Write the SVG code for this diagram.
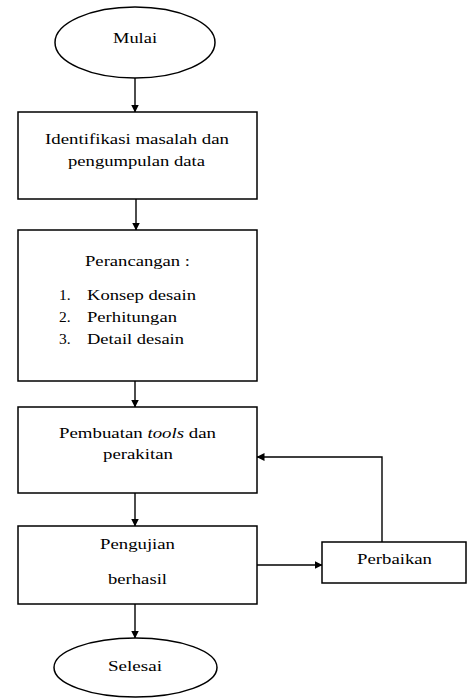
<svg xmlns="http://www.w3.org/2000/svg" width="467" height="698" viewBox="0 0 467 698">
<defs>
<marker id="ah" markerWidth="8" markerHeight="8" refX="7.5" refY="4" orient="auto" markerUnits="userSpaceOnUse">
<path d="M0,0 L8,4 L0,8 Z" fill="#000"/>
</marker>
<style>
.s{fill:#fff;stroke:#000;stroke-width:1.5}
.t{font-family:'Liberation Serif','Times New Roman',serif;font-size:15.5px;fill:#000;text-anchor:middle}
.l{font-family:'Liberation Serif','Times New Roman',serif;font-size:15.5px;fill:#000}
.c{fill:none;stroke:#000;stroke-width:1.4;marker-end:url(#ah)}
</style>
</defs>
<rect width="467" height="698" fill="#fff"/>
<g id="connectors">
<line class="c" x1="135" y1="78" x2="135" y2="112"/>
<line class="c" x1="136" y1="199" x2="136" y2="230"/>
<line class="c" x1="135" y1="381" x2="135" y2="407"/>
<line class="c" x1="135" y1="493" x2="135" y2="526"/>
<line class="c" x1="135" y1="604" x2="135" y2="638"/>
<line class="c" x1="257" y1="565" x2="322" y2="565"/>
<polyline class="c" points="382,542 382,457 257,457"/>
</g>
<g id="mulai">
<ellipse class="s" cx="135" cy="42.5" rx="80" ry="35.5"/>
<text class="t" x="135" y="43" textLength="44" lengthAdjust="spacingAndGlyphs">Mulai</text>
</g>
<g id="identifikasi">
<rect class="s" x="18" y="112" width="239" height="87"/>
<text class="t" x="137" y="144" textLength="184" lengthAdjust="spacingAndGlyphs">Identifikasi masalah dan</text>
<text class="t" x="136.5" y="166" textLength="137" lengthAdjust="spacingAndGlyphs">pengumpulan data</text>
</g>
<g id="perancangan">
<rect class="s" x="18" y="230" width="239" height="151"/>
<text class="t" x="137.5" y="266" textLength="105" lengthAdjust="spacingAndGlyphs">Perancangan :</text>
<text class="l" x="59" y="300">1.</text>
<text class="l" x="87" y="300" textLength="109" lengthAdjust="spacingAndGlyphs">Konsep desain</text>
<text class="l" x="59" y="322">2.</text>
<text class="l" x="87" y="322" textLength="90" lengthAdjust="spacingAndGlyphs">Perhitungan</text>
<text class="l" x="59" y="344">3.</text>
<text class="l" x="87" y="344" textLength="97" lengthAdjust="spacingAndGlyphs">Detail desain</text>
</g>
<g id="pembuatan">
<rect class="s" x="18" y="407" width="239" height="86"/>
<text class="t" x="137.5" y="438" textLength="157" lengthAdjust="spacingAndGlyphs">Pembuatan <tspan font-style="italic">tools</tspan> dan</text>
<text class="t" x="138" y="459" textLength="70" lengthAdjust="spacingAndGlyphs">perakitan</text>
</g>
<g id="pengujian">
<rect class="s" x="18" y="526" width="239" height="78"/>
<text class="t" x="137.5" y="549" textLength="75" lengthAdjust="spacingAndGlyphs">Pengujian</text>
<text class="t" x="137.5" y="584" textLength="59" lengthAdjust="spacingAndGlyphs">berhasil</text>
</g>
<g id="perbaikan">
<rect class="s" x="322" y="542" width="144" height="41"/>
<text class="t" x="394.5" y="564" textLength="75" lengthAdjust="spacingAndGlyphs">Perbaikan</text>
</g>
<g id="selesai">
<ellipse class="s" cx="135.5" cy="667.5" rx="81.5" ry="29.5"/>
<text class="t" x="135" y="671" textLength="54" lengthAdjust="spacingAndGlyphs">Selesai</text>
</g>
</svg>
